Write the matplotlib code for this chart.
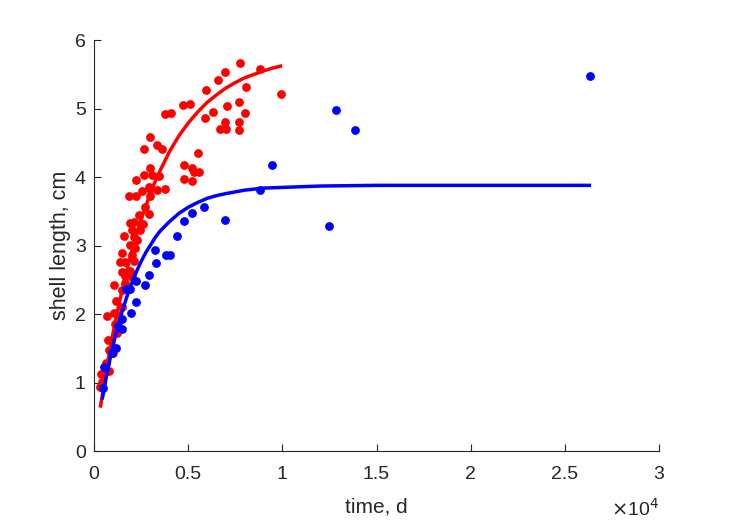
import numpy as np
import matplotlib
matplotlib.use('Agg')
import matplotlib.pyplot as plt
from matplotlib.ticker import FuncFormatter

plt.rcParams['font.family'] = ['Liberation Sans', 'DejaVu Sans']

# observed shell lengths (time in days, length in cm)
red_t = [7753, 8815, 6956, 6600, 8071, 5921, 9930, 4715, 5098, 7684,
         7046, 6335, 8034, 3744, 4089, 5894, 6972, 7684, 6691, 6999,
         7715, 2963, 3335, 3621, 2628, 5533, 4752, 5214, 2963, 5294,
         5549, 2628, 3053, 3452, 4768, 5214, 2204, 2921, 2565, 2947,
         3345, 3759, 1859, 2230, 2958, 2708, 2936, 2405, 2140, 2575,
         1922, 2018, 2459, 1609, 2097, 1922, 2257, 2193, 1497, 2007,
         1662, 2140, 1354, 1460, 1890, 1662, 2018, 1051, 1657, 1460,
         1184, 1487, 701, 1046, 1290, 1115, 1211, 717, 812, 1025,
         621, 770, 356, 414, 329]
red_L = [5.67, 5.58, 5.53, 5.42, 5.31, 5.27, 5.22, 5.05, 5.07, 5.10,
         5.04, 4.95, 4.93, 4.92, 4.93, 4.87, 4.81, 4.80, 4.70, 4.70,
         4.69, 4.59, 4.47, 4.41, 4.41, 4.35, 4.17, 4.14, 4.14, 4.08,
         4.07, 4.03, 4.03, 4.02, 3.98, 3.94, 3.96, 3.86, 3.80, 3.82,
         3.81, 3.82, 3.73, 3.72, 3.72, 3.57, 3.46, 3.45, 3.35, 3.31,
         3.33, 3.23, 3.23, 3.14, 3.12, 3.01, 3.08, 2.96, 2.90, 2.86,
         2.76, 2.77, 2.76, 2.62, 2.63, 2.55, 2.54, 2.42, 2.46, 2.35,
         2.19, 2.10, 1.97, 2.01, 1.99, 1.85, 1.72, 1.63, 1.47, 1.43,
         1.28, 1.17, 1.13, 1.01, 0.94]

blue_t = [494, 531, 929, 1168, 1290, 1503, 1487, 1699, 1912, 1965,
          2214, 2220, 2682, 2894, 3266, 3239, 3797, 4009, 4392, 4763,
          5220, 5841, 6967, 8799, 9468, 12494, 12834, 13875, 26354]
blue_L = [0.92, 1.23, 1.43, 1.50, 1.83, 1.78, 1.93, 2.36, 2.36, 2.01,
          2.18, 2.49, 2.42, 2.57, 2.75, 2.93, 2.86, 2.86, 3.14, 3.36,
          3.47, 3.56, 3.38, 3.81, 4.18, 3.28, 4.98, 4.69, 5.47]

# fitted growth curves
red_fit_t = [350, 500, 600, 750, 875, 1000, 1125, 1250, 1500, 1750,
             2000, 2250, 2500, 2750, 3000, 3250, 3500, 4000, 4500, 5000,
             5500, 6000, 6500, 7000, 7500, 8000, 8500, 9000, 9450, 9900]
red_fit_L = [0.66, 0.92, 1.09, 1.33, 1.52, 1.71, 1.88, 2.05, 2.36, 2.65,
             2.92, 3.16, 3.38, 3.58, 3.77, 3.94, 4.09, 4.37, 4.60, 4.79,
             4.95, 5.09, 5.20, 5.30, 5.38, 5.45, 5.50, 5.55, 5.59, 5.62]

blue_fit_t = [450, 600, 700, 800, 900, 1000, 1125, 1250, 1375, 1500,
              1750, 2000, 2250, 2500, 2750, 3000, 3250, 3500, 4000, 4500,
              5000, 5500, 6000, 6500, 7000, 8000, 9000, 10000, 12000, 15000,
              20000, 26300]
blue_fit_L = [0.78, 1.01, 1.15, 1.28, 1.41, 1.53, 1.67, 1.80, 1.93, 2.05,
              2.26, 2.45, 2.62, 2.77, 2.90, 3.01, 3.12, 3.21, 3.35, 3.47,
              3.56, 3.63, 3.69, 3.73, 3.76, 3.81, 3.84, 3.85, 3.87, 3.88,
              3.88, 3.88]

fig = plt.figure(figsize=(7.29, 5.21), dpi=100)
ax = fig.add_axes([0.129, 0.134, 0.775, 0.789])

ax.scatter(red_t, red_L, s=40, color=(1, 0, 0), linewidths=0, zorder=2)
ax.plot(red_fit_t, red_fit_L, color=(1, 0, 0), lw=2.5, zorder=3)
ax.plot(blue_fit_t, blue_fit_L, color=(0, 0, 1), lw=2.5, zorder=4)
ax.scatter(blue_t, blue_L, s=40, color=(0, 0, 1), linewidths=0, zorder=5)

ax.set_xlim(0, 30000)
ax.set_ylim(0, 6)
ax.set_xticks(np.arange(0, 30001, 5000))
ax.set_yticks(np.arange(0, 7, 1))
ax.xaxis.set_major_formatter(FuncFormatter(lambda v, p: f'{v/1e4:g}'))

axcol = (0.15, 0.15, 0.15)
for s in ['top', 'right']:
    ax.spines[s].set_visible(False)
for s in ['left', 'bottom']:
    ax.spines[s].set_color(axcol)
    ax.spines[s].set_linewidth(0.8)
ax.tick_params(direction='in', length=5, width=0.8, colors=axcol, labelsize=14)
ax.tick_params(axis='x', pad=11)
ax.tick_params(axis='y', pad=6)

ax.set_xlabel('time, d', fontsize=15, color=axcol, labelpad=10)
ax.set_ylabel('shell length, cm', fontsize=15.5, color=axcol, labelpad=3)
ax.text(1.0, -0.158, r'$\times$10$^4$', transform=ax.transAxes, ha='right',
        va='baseline', fontsize=14, color=axcol)

fig.savefig('out.png', dpi=100)
